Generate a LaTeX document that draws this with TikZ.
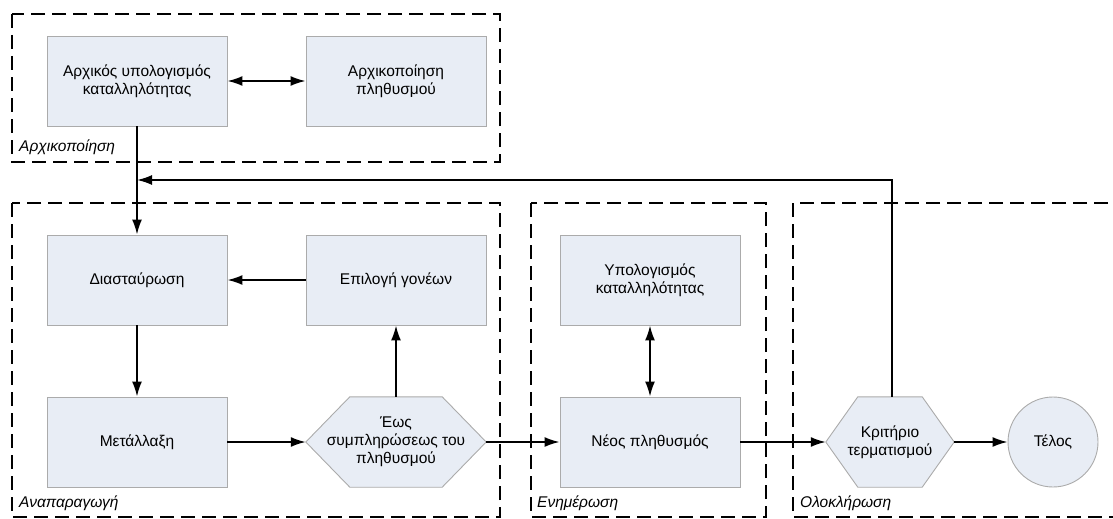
\documentclass[tikz,border=0pt]{standalone}
\usepackage{fontspec}
\setmainfont{Liberation Sans}
\usetikzlibrary{arrows.meta,backgrounds}

\definecolor{boxfill}{HTML}{E8EDF5}
\definecolor{boxline}{HTML}{ABABAB}

\tikzset{
    stepbox/.style={rectangle, fill=boxfill, draw=boxline, line width=0.9pt,
        minimum width=180pt, minimum height=90pt, align=center,
        font=\fontsize{15.5}{18}\selectfont},
    hexnode/.style={rectangle, minimum height=90pt, align=center, inner sep=0pt,
        font=\fontsize{15.5}{18}\selectfont},
    endnode/.style={circle, fill=boxfill, draw=boxline, line width=0.9pt,
        minimum size=90pt, inner sep=0pt, font=\fontsize{15.5}{18}\selectfont},
    frame/.style={draw, line width=1.8pt, dash pattern=on 14pt off 7pt},
    framelabel/.style={anchor=west, inner sep=0pt, font=\fontsize{15.5}{18}\selectfont\itshape},
    conn/.style={line width=1.8pt, -{Latex[length=15pt,width=10pt]}},
    dconn/.style={line width=1.8pt, {Latex[length=15pt,width=10pt]}-{Latex[length=15pt,width=10pt]}}
}

\begin{document}
\begin{tikzpicture}[x=1pt, y=-1pt]
        \useasboundingbox (0,0) rectangle (1113,519);
        \clip (0,0) rectangle (1113,519);

        %πλαισια
        \draw[frame] (12,14) rectangle (500,162);
        \draw[frame] (12,203) rectangle (500,517);
        \draw[frame] (531,203) rectangle (766,517);
        \draw[frame] (793,203) rectangle (1130,517);

        \node[framelabel] (lbinit) at (19,147) {Αρχικοποίηση};
        \node[framelabel] (lbrepr) at (19,503) {Αναπαραγωγή};
        \node[framelabel] (lbupd) at (537,503) {Ενημέρωση};
        \node[framelabel] (lbend) at (800,503) {Ολοκλήρωση};

        %κομβοι
        \node[stepbox] (fitinit) at (137,81) {Αρχικός υπολογισμός\\καταλληλότητας};
        \node[stepbox] (popinit) at (396,81) {Αρχικοποίηση\\πληθυσμού};
        \node[stepbox] (cross) at (137,280) {Διασταύρωση};
        \node[stepbox] (parents) at (396,280) {Επιλογή γονέων};
        \node[stepbox] (mutate) at (137,442) {Μετάλλαξη};
        \node[hexnode, minimum width=180pt] (until) at (396,442) {Έως\\συμπληρώσεως του\\πληθυσμού};
        \node[stepbox] (fitcalc) at (650,280) {Υπολογισμός\\καταλληλότητας};
        \node[stepbox] (newpop) at (650,442) {Νέος πληθυσμός};
        \node[hexnode, minimum width=128pt] (crit) at (890,442) {Κριτήριο\\τερματισμού};
        \node[endnode] (stop) at (1053,442) {Τέλος};

        %εξαγωνα
        \begin{scope}[on background layer]
        \filldraw[fill=boxfill, draw=boxline, line width=0.9pt] (until.west) -- ([xshift=44pt]until.north west) -- ([xshift=-44pt]until.north east)
            -- (until.east) -- ([xshift=-44pt]until.south east) -- ([xshift=44pt]until.south west) -- cycle;
        \filldraw[fill=boxfill, draw=boxline, line width=0.9pt] (crit.west) -- ([xshift=32pt]crit.north west) -- ([xshift=-32pt]crit.north east)
            -- (crit.east) -- ([xshift=-32pt]crit.south east) -- ([xshift=32pt]crit.south west) -- cycle;
        \end{scope}

        %βελη
        \draw[dconn] (fitinit) -- (popinit);
        \draw[conn] (fitinit) -- (cross);
        \draw[conn] (parents) -- (cross);
        \draw[conn] (cross) -- (mutate);
        \draw[conn] (mutate) -- (until);
        \draw[conn] (until) -- (parents);
        \draw[conn] (until) -- (newpop);
        \draw[dconn] (fitcalc) -- (newpop);
        \draw[conn] (newpop) -- (crit);
        \draw[conn] (crit) -- (stop);

        %επαναληψη
        \coordinate (back) at (137,180);
        \draw[conn] ([xshift=2pt]crit.north) |- (back);
    \end{tikzpicture}
\end{document}
